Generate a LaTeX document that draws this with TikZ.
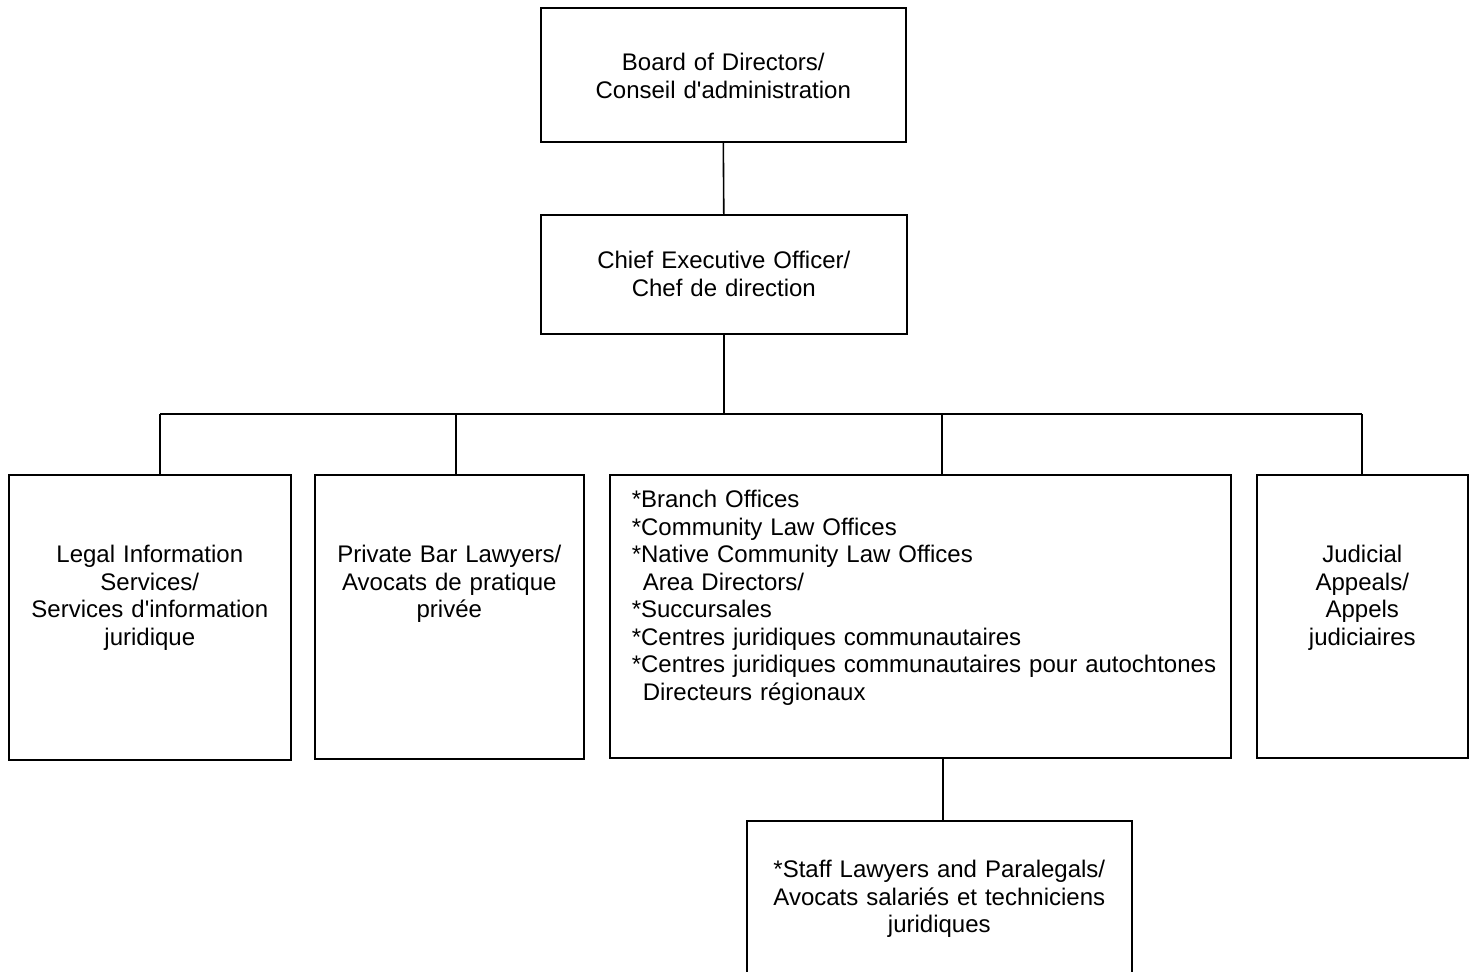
\documentclass[tikz,border=0pt]{standalone}
\usepackage{fontspec}
\setmainfont{Liberation Sans}
\usepackage{tikz}

\begin{document}
\begin{tikzpicture}[x=0.5pt, y=-0.5pt, line width=0.8pt,
    orgbox/.style={draw=black, anchor=north west, inner xsep=0pt, inner ysep=0pt,
      align=center, font=\fontsize{12}{13.75}\selectfont}]
    \useasboundingbox (0,0) rectangle (1473,971);
    \clip (0,0) rectangle (1473,971);
    \node[orgbox, text width=182.5pt, text height=31.5pt, text depth=35.5pt] at (540,7) (board) {Board of Directors/\\Conseil d\textquotesingle administration};
    \node[orgbox, text width=183pt, text height=27pt, text depth=32.5pt] at (540,214) (ceo) {Chief Executive Officer/\\Chef de direction};
    \node[orgbox, text width=141pt, text height=44pt, text depth=98.5pt] at (8,474) (legal) {Legal Information\\Services/\\Services d\textquotesingle information\\juridique};
    \node[orgbox, text width=134.5pt, text height=44pt, text depth=98pt] at (314,474) (private) {Private Bar Lawyers/\\Avocats de pratique\\privée};
    \node[orgbox, align=left, inner xsep=11pt, text width=288.5pt, text height=16.5pt, text depth=125pt] at (609,474) (branch) {*Branch Offices\\{}*Community Law Offices\\{}*Native Community Law Offices\\\hspace*{5.5pt}Area Directors/\\{}*Succursales\\{}*Centres juridiques communautaires\\\mbox{*Centres juridiques communautaires pour autochtones}\\\hspace*{5.5pt}Directeurs régionaux};
    \node[orgbox, text width=105.5pt, text height=44pt, text depth=97.5pt] at (1256,474) (judicial) {Judicial\\Appeals/\\Appels\\judiciaires};
    \node[orgbox, text width=192.5pt, text height=28.5pt, text depth=61.5pt] at (746,820) (staff) {*Staff Lawyers and Paralegals/\\Avocats salariés et techniciens\\juridiques};
    \coordinate (dlegal) at (160,414);
    \coordinate (dprivate) at (456,414);
    \coordinate (dbranch) at (942,414);
    \coordinate (djudicial) at (1362,414);
    \coordinate (dstaff) at (943,790);
    \draw (board.south) -- (ceo.north);
    \draw (ceo.south) -- (ceo.south |- dlegal);
    \draw (dlegal) -- (djudicial);
    \draw (dlegal) -- (dlegal |- legal.north);
    \draw (dprivate) -- (dprivate |- private.north);
    \draw (dbranch) -- (dbranch |- branch.north);
    \draw (djudicial) -- (djudicial |- judicial.north);
    \draw (dstaff |- branch.south) -- (dstaff |- staff.north);
\end{tikzpicture}
\end{document}
